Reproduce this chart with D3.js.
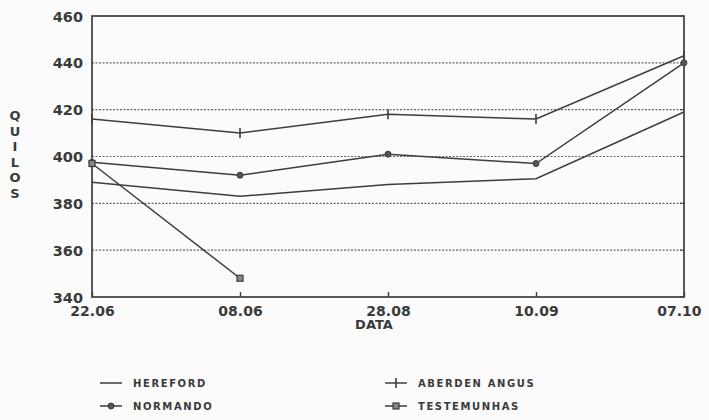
<!DOCTYPE html>
<html>
<head>
<meta charset="utf-8">
<script src="https://cdn.jsdelivr.net/npm/d3@7"></script>
<style>
  body { margin: 0; background: #fbfbfb; }
  text { font-family: "DejaVu Sans", Arial, sans-serif; font-weight: bold; fill: #3a3a3a; }
</style>
</head>
<body>
<svg id="chart" width="709" height="420"></svg>
<script>
const dates = ["22.06", "08.06", "28.08", "10.09", "07.10"];
const hereford = [389, 383, 388, 390.5, 419];
const aberden = [416, 410, 418, 416, 443];
const normando = [397.5, 392, 401, 397, 440];
const testemunhas = [397, 348];
const yTicks = [340, 360, 380, 400, 420, 440, 460];

const svg = d3.select("#chart"),
      margin = {top: 16, right: 25, bottom: 123, left: 92},
      width = +svg.attr("width"),
      height = +svg.attr("height");

const ink = "#3d3d3d";

const x = d3.scalePoint().domain(dates).range([margin.left, width - margin.right]);
const y = d3.scaleLinear().domain([340, 460]).range([height - margin.bottom, margin.top]);

// dashed grid lines
svg.append("g")
  .selectAll("line")
  .data(yTicks.slice(1, -1))
  .join("line")
    .attr("x1", margin.left)
    .attr("x2", width - margin.right)
    .attr("y1", d => y(d))
    .attr("y2", d => y(d))
    .attr("stroke", "#666")
    .attr("stroke-width", 1.1)
    .attr("stroke-dasharray", "2,1.5");

// frame
svg.append("rect")
  .attr("x", margin.left)
  .attr("y", margin.top)
  .attr("width", width - margin.left - margin.right)
  .attr("height", height - margin.top - margin.bottom)
  .attr("fill", "none")
  .attr("stroke", ink)
  .attr("stroke-width", 1.7);

// y axis labels
const yAxis = d3.axisLeft(y).tickValues(yTicks).tickSize(0).tickPadding(9);
const gy = svg.append("g").attr("transform", `translate(${margin.left},0)`).call(yAxis);
gy.select(".domain").remove();
gy.selectAll("text").style("font-size", "14.5px").attr("fill", ink).attr("dy", "0.35em");

// right side small ticks
svg.append("g")
  .selectAll("line")
  .data(yTicks)
  .join("line")
    .attr("x1", width - margin.right - 4)
    .attr("x2", width - margin.right)
    .attr("y1", d => y(d))
    .attr("y2", d => y(d))
    .attr("stroke", ink);

// x axis
const xAxis = d3.axisBottom(x).tickSizeInner(-5).tickSizeOuter(0).tickPadding(9);
const gx = svg.append("g").attr("transform", `translate(0,${height - margin.bottom})`).call(xAxis);
gx.select(".domain").remove();
gx.selectAll("line").attr("stroke", ink).attr("stroke-width", 1.4);
gx.selectAll("text").style("font-size", "14px").attr("fill", ink);
gx.selectAll(".tick:last-of-type text").attr("text-anchor", "end").attr("dx", "17");

svg.append("text")
  .attr("x", x("28.08") - 14)
  .attr("y", height - margin.bottom + 32)
  .attr("text-anchor", "middle")
  .style("font-size", "13px")
  .text("DATA");

// y axis title, letters stacked
const yLetters = "QUILOS".split("");
svg.append("g")
  .selectAll("text")
  .data(yLetters)
  .join("text")
    .attr("x", 15)
    .attr("y", (d, i) => 120 + i * 15.5)
    .attr("text-anchor", "middle")
    .style("font-size", "13px")
    .text(d => d);

const line = d3.line()
  .x((d, i) => x(dates[i]))
  .y(d => y(d));

const series = [
  {name: "HEREFORD", values: hereford, marker: "none"},
  {name: "ABERDEN ANGUS", values: aberden, marker: "plus"},
  {name: "NORMANDO", values: normando, marker: "dot"},
  {name: "TESTEMUNHAS", values: testemunhas, marker: "square"}
];

function drawMarker(g, type, cx, cy) {
  if (type === "plus") {
    g.append("line").attr("x1", cx).attr("x2", cx).attr("y1", cy - 5).attr("y2", cy + 5)
      .attr("stroke", ink).attr("stroke-width", 1.6);
  } else if (type === "dot") {
    g.append("circle").attr("cx", cx).attr("cy", cy).attr("r", 3)
      .attr("fill", "#555").attr("stroke", ink).attr("stroke-width", 1);
  } else if (type === "square") {
    g.append("rect").attr("x", cx - 3).attr("y", cy - 3).attr("width", 6).attr("height", 6)
      .attr("fill", "#888").attr("stroke", ink).attr("stroke-width", 1.2);
  }
}

series.forEach(s => {
  svg.append("path")
    .datum(s.values)
    .attr("d", line)
    .attr("fill", "none")
    .attr("stroke", ink)
    .attr("stroke-width", 1.5);
  const g = svg.append("g");
  s.values.forEach((v, i) => drawMarker(g, s.marker, x(dates[i]), y(v)));
});

// legend
const legendPos = [
  {lx: 100, ty: 383},
  {lx: 385, ty: 383},
  {lx: 100, ty: 406},
  {lx: 385, ty: 406}
];
series.forEach((s, i) => {
  const p = legendPos[i];
  const g = svg.append("g");
  g.append("line")
    .attr("x1", p.lx).attr("x2", p.lx + 22)
    .attr("y1", p.ty).attr("y2", p.ty)
    .attr("stroke", ink).attr("stroke-width", 1.5);
  drawMarker(g, s.marker, p.lx + 11, p.ty);
  g.append("text")
    .attr("x", p.lx + (i % 2 === 0 ? 33 : 33))
    .attr("y", p.ty)
    .attr("dy", "0.35em")
    .style("font-size", "10px")
    .style("letter-spacing", "1.6px")
    .text(s.name);
});
</script>
</body>
</html>
